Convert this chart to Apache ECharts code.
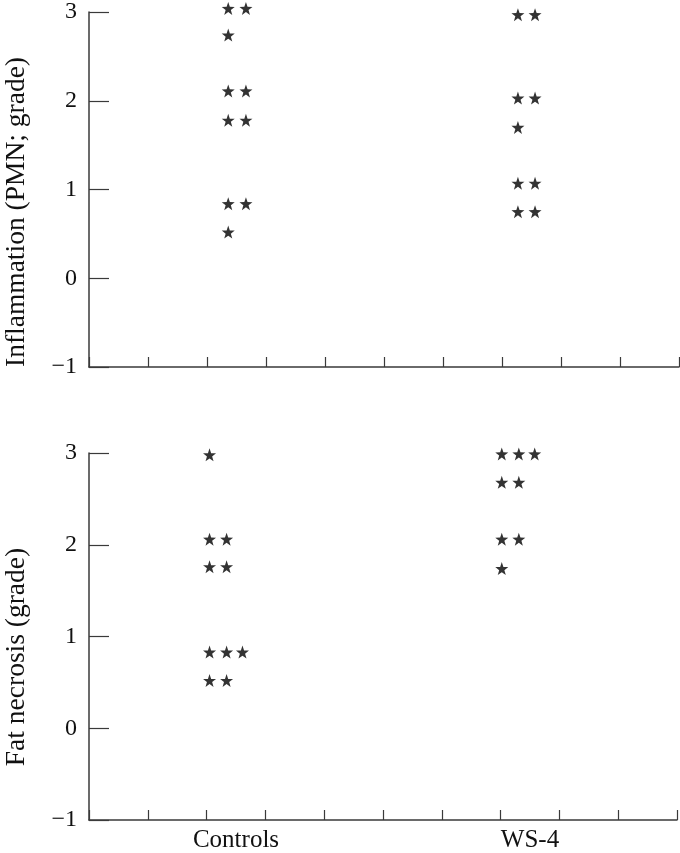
<!DOCTYPE html>
<html>
<head>
<meta charset="utf-8">
<script src="https://cdn.jsdelivr.net/npm/echarts@6/dist/echarts.min.js"></script>
<style>
  html, body { margin: 0; padding: 0; background: #fff; }
  #main { width: 680px; height: 853px; }
</style>
</head>
<body>
<div id="main"></div>
<script>
// group labels sit half way between ticks 2-3 and 7-8
var groupNames = ['Controls', 'WS-4'];
var groupPos = [2.5, 7.5];
var yTicks = [-1, 0, 1, 2, 3];

// [x, grade] for each star
var inflamControls = [[2.36, 3.04], [2.66, 3.04], [2.36, 2.74], [2.36, 2.11], [2.66, 2.11],
  [2.36, 1.78], [2.66, 1.78], [2.36, 0.84], [2.66, 0.84], [2.36, 0.52]];
var inflamWS4 = [[7.27, 2.97], [7.56, 2.97], [7.27, 2.03], [7.56, 2.03], [7.27, 1.70],
  [7.27, 1.07], [7.56, 1.07], [7.27, 0.75], [7.56, 0.75]];
var necrosisControls = [[2.05, 2.98], [2.05, 2.06], [2.34, 2.06], [2.05, 1.76], [2.34, 1.76],
  [2.05, 0.83], [2.34, 0.83], [2.61, 0.83], [2.05, 0.52], [2.34, 0.52]];
var necrosisWS4 = [[7.02, 2.99], [7.31, 2.99], [7.58, 2.99], [7.02, 2.68], [7.31, 2.68],
  [7.02, 2.06], [7.31, 2.06], [7.02, 1.74]];

// five point star symbol
function starPath() {
  var pts = [];
  for (var i = 0; i < 10; i++) {
    var r = i % 2 ? 40 : 100;
    var a = -Math.PI / 2 + i * Math.PI / 5;
    pts.push((100 + r * Math.cos(a)).toFixed(1) + ',' + (100 + r * Math.sin(a)).toFixed(1));
  }
  return 'path://M' + pts.join('L') + 'Z';
}
var STAR = starPath();

var FONT = 'Liberation Serif';
var AXIS_COLOR = '#3a3a3a';

function yAxisFor(grid) {
  return {
    type: 'value', gridIndex: grid, min: yTicks[0], max: yTicks[yTicks.length - 1], interval: 1,
    axisLine: { show: true, onZero: false, lineStyle: { color: AXIS_COLOR, width: 1.5 } },
    axisTick: { show: true, inside: true, length: 20, lineStyle: { color: AXIS_COLOR, width: 1.2 } },
    axisLabel: {
      margin: 12, color: '#111', fontFamily: FONT, fontSize: 24,
      formatter: function (v) { return v < 0 ? '\u2212' + Math.abs(v) : String(v); }
    },
    splitLine: { show: false }
  };
}

function xAxisFor(grid) {
  return {
    type: 'value', gridIndex: grid, min: 0, max: 10, interval: 1, position: 'bottom',
    axisLine: { show: true, onZero: false, lineStyle: { color: AXIS_COLOR, width: 1.5 } },
    axisTick: { show: true, inside: true, length: 10, lineStyle: { color: AXIS_COLOR, width: 1.2 } },
    axisLabel: { show: false },
    splitLine: { show: false }
  };
}

function starSeries(data, xi, yi) {
  return {
    type: 'scatter', xAxisIndex: xi, yAxisIndex: yi, data: data,
    symbol: STAR, symbolSize: 13, clip: false, silent: true,
    itemStyle: { color: '#000' }
  };
}

var chart = echarts.init(document.getElementById('main'));
chart.setOption({
  animation: false,
  grid: [
    { left: 89, right: 1, top: 9, height: 358 },
    { left: 89, right: 1, top: 453, height: 371 }
  ],
  xAxis: [
    xAxisFor(0),
    xAxisFor(1),
    {
      // group names under the lower panel
      type: 'value', gridIndex: 1, min: 0, max: 10, interval: 0.5, position: 'bottom',
      axisLine: { show: false, onZero: false }, axisTick: { show: false }, splitLine: { show: false },
      axisLabel: {
        margin: 8, color: '#111', fontFamily: FONT, fontSize: 25,
        formatter: function (v) {
          var i = groupPos.indexOf(v);
          return i >= 0 ? groupNames[i] : '';
        }
      }
    }
  ],
  yAxis: [yAxisFor(0), yAxisFor(1)],
  graphic: [
    {
      type: 'text', x: 17, y: 212, rotation: Math.PI / 2,
      style: { text: 'Inflammation (PMN; grade)', font: '27.5px "Liberation Serif"', fill: '#111',
        textAlign: 'center', textVerticalAlign: 'middle' }
    },
    {
      type: 'text', x: 17, y: 657, rotation: Math.PI / 2,
      style: { text: 'Fat necrosis (grade)', font: '27.5px "Liberation Serif"', fill: '#111',
        textAlign: 'center', textVerticalAlign: 'middle' }
    }
  ],
  series: [
    starSeries(inflamControls, 0, 0),
    starSeries(inflamWS4, 0, 0),
    starSeries(necrosisControls, 1, 1),
    starSeries(necrosisWS4, 1, 1)
  ]
});
</script>
</body>
</html>
